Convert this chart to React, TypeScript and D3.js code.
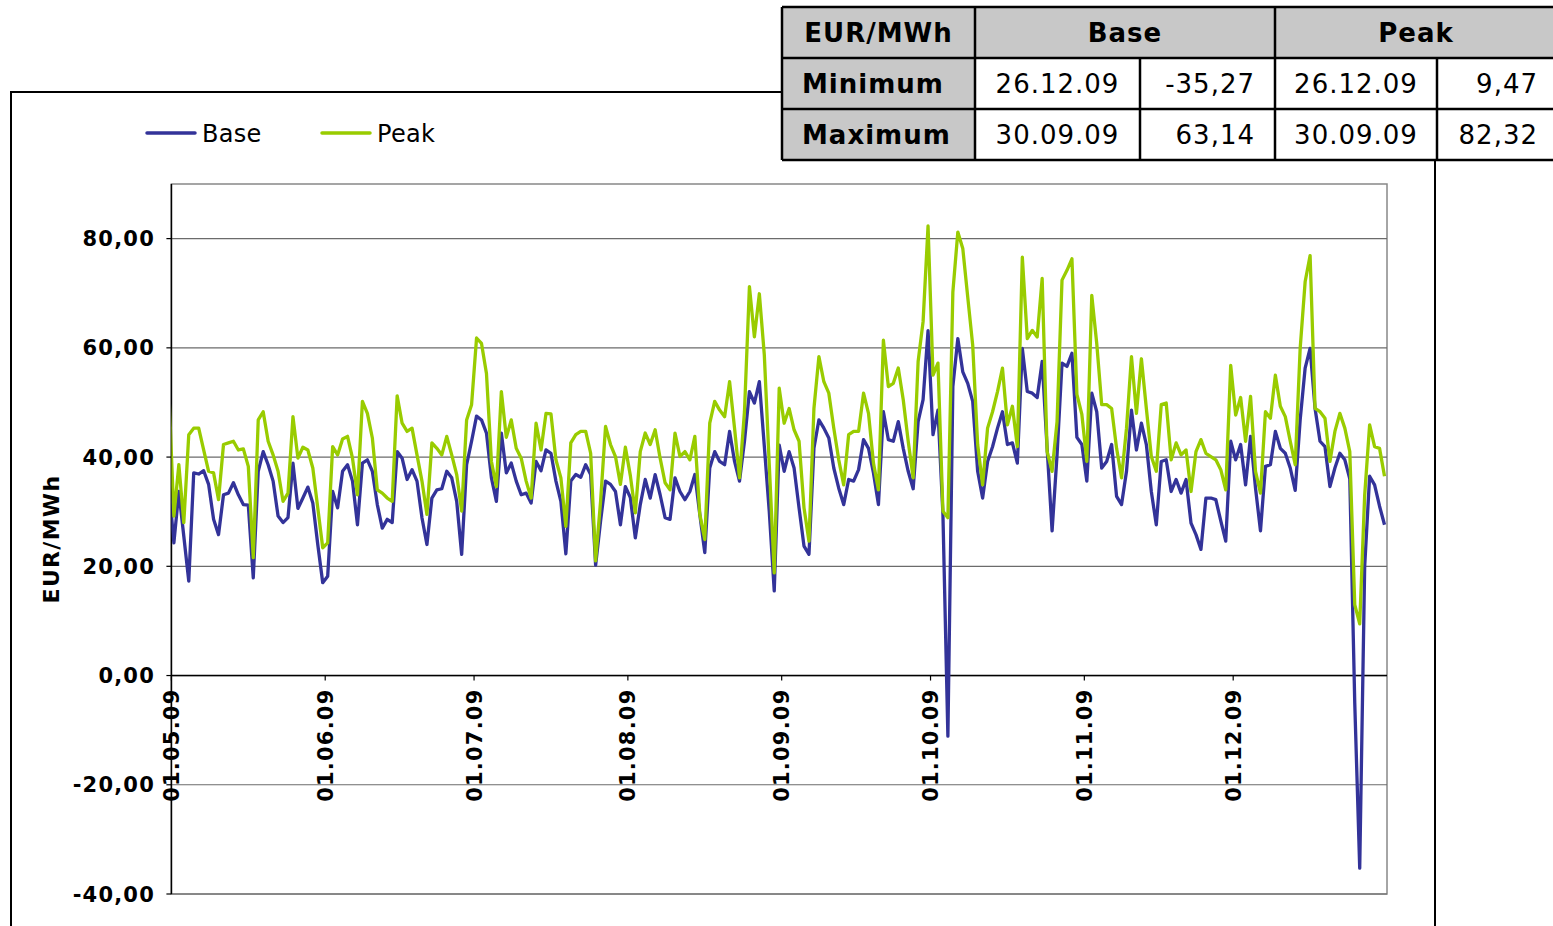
import React from "react";
import * as d3 from "d3";

// daily prices EUR/MWh, first value is 30.04.09 (clipped at the axis start)
const firstDate = "30.04.09";

const baseValues = [
  34.7,
  24.3, 33.7, 25.5, 17.3, 37.1, 36.9, 37.5, 35.0, 28.6, 25.8,
  33.1, 33.4, 35.3, 33.1, 31.3, 31.2, 17.9, 37.4, 41.0, 38.6,
  35.6, 29.2, 28.0, 28.9, 38.9, 30.6, 32.5, 34.5, 31.6, 24.0,
  17.0, 18.2, 33.7, 30.7, 37.4, 38.6, 35.6, 27.6, 38.9, 39.5,
  37.4, 31.3, 27.0, 28.6, 28.0, 41.0, 39.8, 35.9, 37.7, 35.6,
  28.9, 24.0, 32.5, 34.0, 34.2, 37.4, 36.2, 31.9, 22.2, 38.6,
  42.9, 47.5, 46.8, 44.4, 36.2, 31.9, 44.4, 37.1, 38.9, 35.6,
  33.1, 33.4, 31.6, 39.2, 37.5, 41.3, 40.7, 35.6, 31.9, 22.3,
  35.6, 36.8, 36.3, 38.6, 36.8, 20.2, 28.3, 35.6, 35.0, 33.7,
  27.6, 34.6, 32.6, 25.2, 31.3, 35.9, 32.5, 36.8, 33.1, 28.9,
  28.6, 36.2, 33.7, 32.2, 33.7, 36.8, 29.5, 22.5, 38.0, 41.0,
  39.2, 38.6, 44.7, 39.2, 35.6, 42.9, 52.0, 49.9, 53.8, 42.0,
  30.0, 15.5, 42.2, 37.4, 41.0, 38.0, 30.7, 23.7, 22.2, 41.6,
  46.8, 45.3, 43.5, 38.0, 34.3, 31.3, 35.9, 35.6, 37.7, 43.2,
  41.6, 37.1, 31.3, 48.3, 43.2, 42.9, 46.5, 41.6, 37.4, 34.2,
  46.5, 50.5, 63.14, 44.1, 48.6, 29.5, -11.1, 52.9, 61.7, 55.6,
  53.5, 50.2, 37.4, 32.5, 39.2, 41.9, 45.3, 48.3, 42.3, 42.6,
  38.9, 59.9, 52.0, 51.7, 50.9, 57.5, 41.6, 26.5, 40.4, 57.2,
  56.6, 59.0, 43.6, 42.3, 35.6, 51.7, 48.3, 38.0, 39.2, 42.3,
  32.8, 31.3, 37.4, 48.6, 41.3, 46.2, 42.3, 33.7, 27.6, 39.2,
  39.5, 33.7, 35.9, 33.4, 35.9, 27.9, 25.8, 23.1, 32.5, 32.5,
  32.2, 28.3, 24.6, 42.9, 39.5, 42.3, 34.9, 43.8, 34.3, 26.5,
  38.3, 38.6, 44.7, 41.6, 40.7, 38.0, 33.9, 46.8, 56.3, 59.9,
  48.9, 42.9, 41.9, 34.6, 38.0, 40.7, 39.5, 36.0, -5.0, -35.27,
  20.0, 36.5, 34.9, 31.0, 27.6,
];

const peakValues = [
  51.8,
  29.2, 38.6, 28.0, 44.1, 45.3, 45.3, 41.3, 37.4, 37.1, 32.2,
  42.3, 42.6, 42.9, 41.3, 41.5, 38.3, 21.6, 46.8, 48.3, 42.9,
  40.4, 37.4, 31.9, 33.4, 47.4, 39.8, 41.8, 41.3, 38.0, 30.7,
  23.4, 24.3, 41.9, 40.4, 43.3, 43.8, 39.8, 33.1, 50.2, 48.0,
  43.5, 34.0, 33.4, 32.5, 31.9, 51.2, 46.2, 44.7, 45.3, 40.4,
  35.6, 29.5, 42.6, 41.6, 40.4, 43.8, 40.4, 36.8, 30.1, 46.8,
  49.6, 61.8, 60.8, 55.3, 39.2, 34.6, 52.0, 43.6, 46.8, 41.6,
  39.8, 35.6, 32.5, 46.2, 41.3, 48.0, 47.9, 39.5, 36.2, 27.3,
  42.6, 44.1, 44.7, 44.7, 40.7, 21.0, 31.9, 45.6, 42.3, 40.1,
  35.0, 41.8, 36.6, 29.8, 41.0, 44.4, 42.3, 45.0, 39.8, 35.3,
  34.0, 44.4, 40.1, 41.0, 39.5, 43.8, 29.5, 24.9, 46.2, 50.2,
  48.6, 47.4, 53.8, 45.3, 36.2, 48.3, 71.2, 62.0, 69.9, 58.7,
  38.6, 18.8, 52.6, 46.2, 48.9, 45.0, 42.9, 30.7, 24.6, 48.9,
  58.4, 53.8, 51.7, 45.3, 39.5, 34.9, 44.1, 44.7, 44.7, 51.7,
  48.0, 38.9, 34.0, 61.4, 52.9, 53.5, 56.3, 50.5, 42.9, 36.2,
  57.5, 64.8, 82.32, 55.0, 57.2, 30.1, 28.9, 70.2, 81.2, 78.2,
  69.3, 60.5, 42.3, 34.9, 45.3, 48.3, 52.0, 56.3, 45.9, 49.3,
  41.9, 76.6, 61.7, 63.2, 62.0, 72.7, 41.0, 37.4, 46.5, 72.4,
  74.2, 76.3, 51.5, 47.8, 39.2, 69.6, 60.8, 49.6, 49.6, 48.9,
  41.6, 36.2, 45.3, 58.4, 48.0, 58.0, 48.9, 40.1, 37.4, 49.6,
  49.9, 39.5, 42.6, 40.4, 41.3, 33.7, 41.0, 43.2, 40.7, 40.1,
  39.5, 37.7, 34.0, 56.8, 47.7, 50.9, 42.9, 51.1, 37.4, 33.4,
  48.3, 47.1, 55.0, 49.3, 47.4, 42.9, 38.6, 59.9, 72.1, 76.9,
  48.9, 48.3, 47.1, 39.2, 44.7, 48.0, 45.3, 41.0, 13.0, 9.47,
  33.0, 45.9, 41.9, 41.6, 36.5,
];

const axisDates = ["01.05.09", "01.06.09", "01.07.09", "01.08.09", "01.09.09", "01.10.09", "01.11.09", "01.12.09"];
const axisEnd = ["01.05.09", "01.01.10"];
const yTicks = [-40, -20, 0, 20, 40, 60, 80];
const yDomain = [-40, 90];
const seriesNames = ["Base", "Peak"];
const tableHead = ["EUR/MWh", "Base", "Peak"];
const tableRows = [
  ["Minimum", "26.12.09", "-35,27", "26.12.09", "9,47"],
  ["Maximum", "30.09.09", "63,14", "30.09.09", "82,32"],
];

const colors = { Base: "#333399", Peak: "#99cc00" };
const font = "'DejaVu Sans', Verdana, sans-serif";

const App = () => {
  const width = 1553, height = 926;
  const plot = { left: 171.4, right: 1387, top: 184, bottom: 894 };
  const parse = d3.timeParse("%d.%m.%y");
  const start = parse(firstDate);

  const x = d3.scaleTime()
    .domain(axisEnd.map((d) => parse(d)))
    .range([plot.left, plot.right]);
  const y = d3.scaleLinear().domain(yDomain).range([plot.bottom, plot.top]);

  const dayX = (i) => x(d3.timeHour.offset(d3.timeDay.offset(start, i), 12));
  const line = d3.line().x((d, i) => dayX(i)).y((d) => y(d));
  const fmt = (v) => d3.format(".2f")(v).replace(".", ",").replace("\u2212", "-");

  const series = [
    { name: "Base", values: baseValues },
    { name: "Peak", values: peakValues },
  ];

  // table layout
  const colX = [782, 975, 1140, 1275, 1437, 1557];
  const rowY = [7, 58, 109, 160];
  const gray = "#c8c8c8";

  return (
    <svg width={width} height={height} style={{ position: "absolute", left: 0, top: 0, background: "#fff" }} fontFamily={font}>
      <defs>
        <clipPath id="plotClip">
          <rect x={plot.left} y={plot.top} width={plot.right - plot.left} height={plot.bottom - plot.top} />
        </clipPath>
      </defs>

      {/* chart area */}
      <rect x={11} y={92} width={1424} height={900} fill="#fff" stroke="#000" strokeWidth={2} />

      {/* legend */}
      {seriesNames.map((n, k) => (
        <g key={n} transform={`translate(${147 + k * 175},133)`}>
          <line x1={0} x2={48} y1={0} y2={0} stroke={colors[n]} strokeWidth={3.5} strokeLinecap="round" />
          <text x={55} y={9} fontSize={24} fill="#000" letterSpacing={0.3}>{n}</text>
        </g>
      ))}

      {/* plot area */}
      <rect x={plot.left} y={plot.top} width={plot.right - plot.left} height={plot.bottom - plot.top} fill="#fff" stroke="#888" strokeWidth={1.5} />
      {yTicks.map((t) => (
        <line key={t} x1={plot.left} x2={plot.right} y1={y(t)} y2={y(t)} stroke="#6b6b6b" strokeWidth={1.2} />
      ))}

      {/* y axis */}
      <line x1={plot.left} x2={plot.left} y1={plot.top} y2={plot.bottom} stroke="#000" strokeWidth={1.5} />
      {yTicks.map((t) => (
        <g key={t}>
          <line x1={plot.left - 5} x2={plot.left} y1={y(t)} y2={y(t)} stroke="#000" strokeWidth={1.2} />
          <text x={155} y={y(t)} dy="0.36em" textAnchor="end" fontSize={21} fontWeight="bold" letterSpacing={1.2}>
            {fmt(t)}
          </text>
        </g>
      ))}
      <text transform={`translate(59,${(plot.top + plot.bottom) / 2}) rotate(-90)`} textAnchor="middle" fontSize={22} fontWeight="bold" letterSpacing={1.3}>
        EUR/MWh
      </text>

      {/* x axis at zero */}
      <line x1={plot.left} x2={plot.right} y1={y(0)} y2={y(0)} stroke="#000" strokeWidth={1.5} />
      {axisDates.map((d) => {
        const px = x(parse(d));
        return (
          <g key={d}>
            <line x1={px} x2={px} y1={y(0)} y2={y(0) + 5} stroke="#000" strokeWidth={1.2} />
            <text transform={`translate(${px},${y(0) + 13}) rotate(-90)`} dy="0.36em" textAnchor="end" fontSize={21} fontWeight="bold" letterSpacing={1.2}>
              {d}
            </text>
          </g>
        );
      })}

      {/* lines */}
      <g clipPath="url(#plotClip)">
        {series.map((s) => (
          <path key={s.name} d={line(s.values)} fill="none" stroke={colors[s.name]} strokeWidth={3.3} strokeLinejoin="round" />
        ))}
      </g>

      {/* min / max table */}
      <g fontSize={26} letterSpacing={1}>
        <rect x={colX[0]} y={rowY[0]} width={colX[5] - colX[0]} height={rowY[1] - rowY[0]} fill={gray} />
        <rect x={colX[0]} y={rowY[1]} width={colX[1] - colX[0]} height={rowY[3] - rowY[1]} fill={gray} />
        <rect x={colX[1]} y={rowY[1]} width={colX[5] - colX[1]} height={rowY[3] - rowY[1]} fill="#fff" />
        <text x={(colX[0] + colX[1]) / 2} y={(rowY[0] + rowY[1]) / 2} dy="0.36em" textAnchor="middle" fontWeight="bold">{tableHead[0]}</text>
        <text x={(colX[1] + colX[3]) / 2} y={(rowY[0] + rowY[1]) / 2} dy="0.36em" textAnchor="middle" fontWeight="bold">{tableHead[1]}</text>
        <text x={(colX[3] + colX[5]) / 2} y={(rowY[0] + rowY[1]) / 2} dy="0.36em" textAnchor="middle" fontWeight="bold">{tableHead[2]}</text>
        {tableRows.map((r, k) => {
          const cy = (rowY[k + 1] + rowY[k + 2]) / 2;
          return (
            <g key={r[0]}>
              <text x={colX[0] + 20} y={cy} dy="0.36em" fontWeight="bold">{r[0]}</text>
              <text x={(colX[1] + colX[2]) / 2} y={cy} dy="0.36em" textAnchor="middle">{r[1]}</text>
              <text x={colX[3] - 20} y={cy} dy="0.36em" textAnchor="end">{r[2]}</text>
              <text x={(colX[3] + colX[4]) / 2} y={cy} dy="0.36em" textAnchor="middle">{r[3]}</text>
              <text x={colX[5] - 19} y={cy} dy="0.36em" textAnchor="end">{r[4]}</text>
            </g>
          );
        })}
        <g stroke="#000" strokeWidth={2.5}>
          {rowY.map((ry) => (
            <line key={ry} x1={colX[0]} x2={colX[5]} y1={ry} y2={ry} />
          ))}
          <line x1={colX[0]} x2={colX[0]} y1={rowY[0]} y2={rowY[3]} />
          <line x1={colX[1]} x2={colX[1]} y1={rowY[0]} y2={rowY[3]} />
          <line x1={colX[2]} x2={colX[2]} y1={rowY[1]} y2={rowY[3]} />
          <line x1={colX[3]} x2={colX[3]} y1={rowY[0]} y2={rowY[3]} />
          <line x1={colX[4]} x2={colX[4]} y1={rowY[1]} y2={rowY[3]} />
        </g>
      </g>
    </svg>
  );
};

export default App;
